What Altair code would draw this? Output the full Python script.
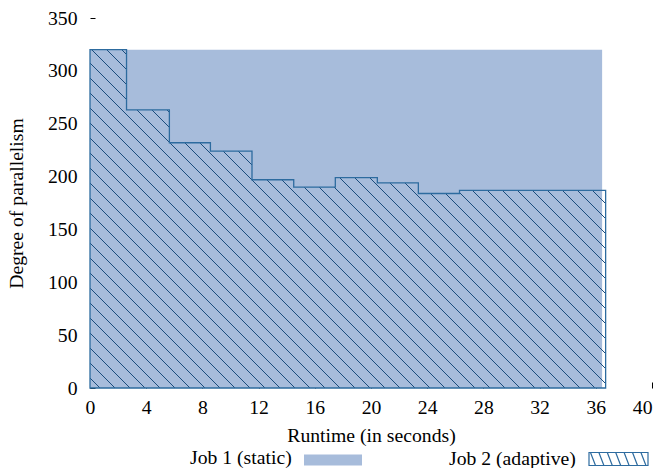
import altair as alt
import pandas as pd

# ---- data ----
step_time = [0, 2.6, 5.65, 8.57, 11.53, 14.5, 17.46, 20.45, 23.37, 26.3]
step_level = [320, 263, 232, 224, 197, 190, 199, 194, 184, 187]
adaptive_end = 36.7
static_level = 320
static_end = 36.45
x_ticks = list(range(0, 41, 4))
y_ticks = list(range(0, 351, 50))
x_max = 40
y_max = 350
job1_name = "Job 1 (static)"
job2_name = "Job 2 (adaptive)"

# ---- style ----
W, H = 562, 370
FONT = "Liberation Serif"
FS = 19.7
FILL = "#a7bcdb"
OUTLINE = "#2d6b9f"
HATCH = "#1a4c7c"
PERIOD = 15.0  # hatch period in px (horizontal)

static_df = pd.DataFrame({"t": [0, static_end], "v": [static_level, static_level],
                          "job1": [job1_name, job1_name]})
adaptive_df = pd.DataFrame({"t": step_time + [adaptive_end],
                            "v": step_level + [step_level[-1]],
                            "job2": [job2_name] * (len(step_time) + 1)})

# ---- hatch segments derived from the step data (north-west lines) ----
sx = W / x_max
sy = H / y_max
bounds = step_time + [adaptive_end]
segs = []
c_lo = (H - max(step_level) * sy) - adaptive_end * sx - PERIOD
c = c_lo - (c_lo % PERIOD)
while c <= H + PERIOD:
    pieces = []
    for i, L in enumerate(step_level):
        a, b = bounds[i], bounds[i + 1]
        xl = (H - c - L * sy) / sx
        x0 = (H - c) / sx
        lo, hi = max(a, xl), min(b, x0)
        if hi > lo + 1e-9:
            if pieces and abs(pieces[-1][1] - lo) < 1e-9:
                pieces[-1][1] = hi
            else:
                pieces.append([lo, hi])
    for lo, hi in pieces:
        segs.append({"x1": lo, "x2": hi,
                     "y1": (H - c - lo * sx) / sy,
                     "y2": (H - c - hi * sx) / sy})
    c += PERIOD
hatch_df = pd.DataFrame(segs)

xscale = alt.Scale(domain=[0, x_max], nice=False)
yscale = alt.Scale(domain=[0, y_max], nice=False)

xaxis = alt.Axis(values=x_ticks, domain=False, grid=False, tickSize=6, offset=-6,
                 tickColor="black", tickWidth=1, labelPadding=9, labelFlush=False,
                 labelAlign={"condition": {"test": f"datum.value == {x_max}", "value": "right"},
                             "value": "center"},
                 title="Runtime (in seconds)", titlePadding=9)
yaxis = alt.Axis(values=y_ticks, domain=False, grid=False, tickSize=5, offset=-5,
                 tickColor="black", tickWidth=1, labelPadding=13,
                 title="Degree of parallelism", titlePadding=21)

job1_path = "M-1,-0.19H1V0.19H-1Z"
lines = "".join(f"M{-0.95 + k * 0.285:.3f},-0.22L{-0.78 + k * 0.285:.3f},0.22" for k in range(7))
job2_path = "M-1,-0.22H1V0.22H-1Z" + lines

legend_common = dict(orient="none", titleOrient="left", titlePadding=12,
                     titleAnchor="middle", titleBaseline="top",
                     labelExpr="''", labelOffset=0)

job1 = alt.Chart(static_df).mark_area(strokeWidth=0).encode(
    x=alt.X("t:Q", scale=xscale, axis=xaxis),
    y=alt.Y("v:Q", scale=yscale, axis=yaxis),
    fill=alt.Fill("job1:N", scale=alt.Scale(range=[FILL]),
                  legend=alt.Legend(legendX=100, legendY=413, title=job1_name,
                                    symbolType=job1_path, symbolSize=3364,
                                    symbolStrokeWidth=0, **legend_common)),
)

hatch = alt.Chart(hatch_df).mark_rule(color=HATCH, strokeWidth=1).encode(
    x=alt.X("x1:Q", scale=xscale), x2="x2:Q",
    y=alt.Y("y1:Q", scale=yscale), y2="y2:Q",
)

job2 = alt.Chart(adaptive_df).mark_area(interpolate="step-after", fill="transparent",
                                        strokeWidth=1.3).encode(
    x=alt.X("t:Q", scale=xscale),
    y=alt.Y("v:Q", scale=yscale),
    stroke=alt.Stroke("job2:N", scale=alt.Scale(range=[OUTLINE]),
                      legend=alt.Legend(legendX=359, legendY=410.5, title=job2_name,
                                        symbolType=job2_path, symbolSize=3481,
                                        symbolStrokeWidth=1.2,
                                        symbolFillColor="transparent",
                                        **legend_common)),
)

chart = alt.layer(job1, hatch, job2).properties(
    width=W, height=H,
    padding={"left": 82, "top": 10, "right": 2, "bottom": 80},
    autosize=alt.AutoSizeParams(type="none"),
).configure_view(stroke=None).configure_axis(
    labelFont=FONT, titleFont=FONT, labelFontSize=FS, titleFontSize=FS,
    titleFontWeight="normal", labelColor="black", titleColor="black",
).configure_legend(
    titleFont=FONT, titleFontSize=FS, titleFontWeight="normal", titleColor="black",
    labelFont=FONT, padding=0,
)

chart.save("out.html", embed_options={"renderer": "svg", "actions": False})
